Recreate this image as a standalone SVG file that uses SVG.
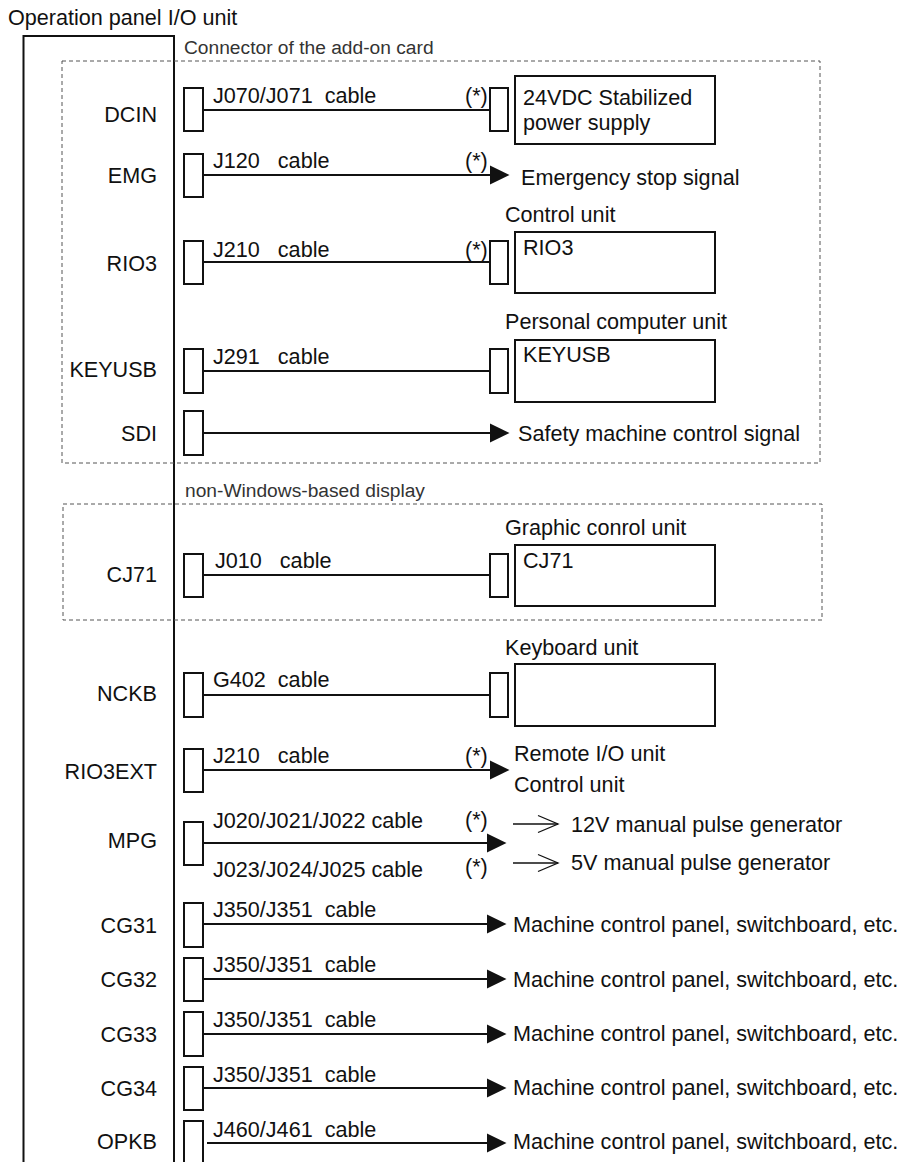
<svg xmlns="http://www.w3.org/2000/svg" width="900" height="1162" viewBox="0 0 900 1162">
<defs>
<style>
text{font-family:"Liberation Sans",Arial,sans-serif;font-size:21.6px;fill:#111;white-space:pre}
.grp{font-size:19.2px;fill:#333}
.lbl{text-anchor:end}
.conn{fill:#fff;stroke:#111;stroke-width:2}
.box{fill:#fff;stroke:#111;stroke-width:2}
.dash{fill:none;stroke:#555;stroke-width:1;stroke-dasharray:4 3}
.wire{fill:none;stroke:#111;stroke-width:2}
.thin{fill:none;stroke:#111;stroke-width:1.3}
</style>
<marker id="tri" markerUnits="userSpaceOnUse" markerWidth="20" markerHeight="20" refX="0" refY="9.5" orient="auto" overflow="visible">
<path d="M0,0 L19.5,9.5 L0,19 Z" fill="#111"/>
</marker>
<marker id="open" markerUnits="userSpaceOnUse" markerWidth="22" markerHeight="20" refX="20" refY="9" orient="auto" overflow="visible">
<path d="M0,0.5 L20,9 L0,17.5" fill="none" stroke="#111" stroke-width="1.3"/>
</marker>
</defs>
<rect width="900" height="1162" fill="#fff"/>

<g id="unit">
<text x="8" y="25">Operation panel I/O unit</text>
<path d="M23.5,1162 V36 H174 V1162" class="wire"/>
</g>

<g id="addon-card">
<rect x="62" y="61" width="758" height="402" class="dash"/>
<text class="grp" x="184" y="54">Connector of the add-on card</text>
</g>
<g id="non-windows">
<rect x="63" y="504" width="759" height="116" class="dash"/>
<text class="grp" x="185" y="497">non-Windows-based display</text>
</g>

<g id="connectors">
<line x1="203" y1="110" x2="490" y2="110" class="wire"/>
<line x1="203" y1="175" x2="490" y2="175" class="wire" marker-end="url(#tri)"/>
<line x1="203" y1="262" x2="490" y2="262" class="wire"/>
<line x1="203" y1="371" x2="490" y2="371" class="wire"/>
<line x1="203" y1="433" x2="490" y2="433" class="wire" marker-end="url(#tri)"/>
<line x1="203" y1="575" x2="490" y2="575" class="wire"/>
<line x1="203" y1="695" x2="490" y2="695" class="wire"/>
<line x1="203" y1="770" x2="490" y2="770" class="wire" marker-end="url(#tri)"/>
<line x1="203" y1="843" x2="487" y2="843" class="wire" marker-end="url(#tri)"/>
<line x1="513" y1="824" x2="558" y2="824" class="thin" marker-end="url(#open)"/>
<line x1="513" y1="863" x2="558" y2="863" class="thin" marker-end="url(#open)"/>
<line x1="203" y1="924" x2="487" y2="924" class="wire" marker-end="url(#tri)"/>
<line x1="203" y1="979" x2="487" y2="979" class="wire" marker-end="url(#tri)"/>
<line x1="203" y1="1034" x2="487" y2="1034" class="wire" marker-end="url(#tri)"/>
<line x1="203" y1="1088" x2="487" y2="1088" class="wire" marker-end="url(#tri)"/>
<line x1="207" y1="1143" x2="487" y2="1143" class="wire" marker-end="url(#tri)"/>
</g>

<g id="DCIN">
<text class="lbl" x="157" y="122">DCIN</text>
<rect x="184" y="88" width="19" height="43" class="conn"/>
<text x="213" y="103">J070/J071  cable</text>
<text x="465" y="103">(*)</text>
<rect x="490" y="88" width="18" height="43" class="conn"/>
</g>
<g id="power-supply">
<rect x="515" y="76" width="200" height="68" class="box"/>
<text x="523" y="105">24VDC Stabilized</text>
<text x="523" y="130">power supply</text>
</g>

<g id="EMG">
<text class="lbl" x="157" y="183">EMG</text>
<rect x="184" y="154" width="19" height="43" class="conn"/>
<text x="213" y="168">J120   cable</text>
<text x="465" y="168">(*)</text>
<text x="521" y="185">Emergency stop signal</text>
</g>

<g id="RIO3">
<text class="lbl" x="157" y="271">RIO3</text>
<rect x="184" y="241" width="19" height="43" class="conn"/>
<text x="213" y="257">J210   cable</text>
<text x="465" y="257">(*)</text>
<rect x="490" y="241" width="18" height="43" class="conn"/>
</g>
<g id="control-unit">
<text x="505" y="222">Control unit</text>
<rect x="515" y="232" width="200" height="61" class="box"/>
<text x="523" y="255">RIO3</text>
</g>

<g id="KEYUSB">
<text class="lbl" x="157" y="377">KEYUSB</text>
<rect x="184" y="349" width="19" height="44" class="conn"/>
<text x="213" y="364">J291   cable</text>
<rect x="490" y="349" width="18" height="44" class="conn"/>
</g>
<g id="pc-unit">
<text x="505" y="329">Personal computer unit</text>
<rect x="515" y="340" width="200" height="62" class="box"/>
<text x="523" y="362">KEYUSB</text>
</g>

<g id="SDI">
<text class="lbl" x="157" y="441">SDI</text>
<rect x="184" y="411" width="19" height="44" class="conn"/>
<text x="518" y="441">Safety machine control signal</text>
</g>

<g id="CJ71">
<text class="lbl" x="157" y="582">CJ71</text>
<rect x="184" y="554" width="19" height="43" class="conn"/>
<text x="215" y="568">J010   cable</text>
<rect x="490" y="554" width="18" height="43" class="conn"/>
</g>
<g id="graphic-unit">
<text x="505" y="535">Graphic conrol unit</text>
<rect x="515" y="545" width="200" height="61" class="box"/>
<text x="523" y="568">CJ71</text>
</g>

<g id="NCKB">
<text class="lbl" x="157" y="701">NCKB</text>
<rect x="184" y="673" width="19" height="44" class="conn"/>
<text x="213" y="687">G402  cable</text>
<rect x="490" y="673" width="18" height="44" class="conn"/>
</g>
<g id="keyboard-unit">
<text x="505" y="655">Keyboard unit</text>
<rect x="515" y="664" width="200" height="62" class="box"/>
</g>

<g id="RIO3EXT">
<text class="lbl" x="157" y="779">RIO3EXT</text>
<rect x="184" y="749" width="19" height="43" class="conn"/>
<text x="213" y="763">J210   cable</text>
<text x="465" y="763">(*)</text>
<text x="514" y="761">Remote I/O unit</text>
<text x="514" y="792">Control unit</text>
</g>

<g id="MPG">
<text class="lbl" x="157" y="848">MPG</text>
<rect x="184" y="822" width="19" height="43" class="conn"/>
<text x="213" y="828">J020/J021/J022 cable</text>
<text x="213" y="877">J023/J024/J025 cable</text>
<text x="465" y="827">(*)</text>
<text x="465" y="874">(*)</text>
<text x="571" y="832">12V manual pulse generator</text>
<text x="571" y="870">5V manual pulse generator</text>
</g>

<g id="CG31">
<text class="lbl" x="157" y="933">CG31</text>
<rect x="184" y="903" width="19" height="44" class="conn"/>
<text x="213" y="917">J350/J351  cable</text>
<text x="513" y="932">Machine control panel, switchboard, etc.</text>
</g>
<g id="CG32">
<text class="lbl" x="157" y="987">CG32</text>
<rect x="184" y="958" width="19" height="43" class="conn"/>
<text x="213" y="972">J350/J351  cable</text>
<text x="513" y="987">Machine control panel, switchboard, etc.</text>
</g>
<g id="CG33">
<text class="lbl" x="157" y="1042">CG33</text>
<rect x="184" y="1012" width="19" height="44" class="conn"/>
<text x="213" y="1027">J350/J351  cable</text>
<text x="513" y="1041">Machine control panel, switchboard, etc.</text>
</g>
<g id="CG34">
<text class="lbl" x="157" y="1096">CG34</text>
<rect x="184" y="1067" width="19" height="43" class="conn"/>
<text x="213" y="1082">J350/J351  cable</text>
<text x="513" y="1095">Machine control panel, switchboard, etc.</text>
</g>
<g id="OPKB">
<text class="lbl" x="157" y="1149">OPKB</text>
<rect x="184" y="1121" width="19" height="60" class="conn"/>
<text x="213" y="1137">J460/J461  cable</text>
<text x="513" y="1149">Machine control panel, switchboard, etc.</text>
</g>
</svg>
